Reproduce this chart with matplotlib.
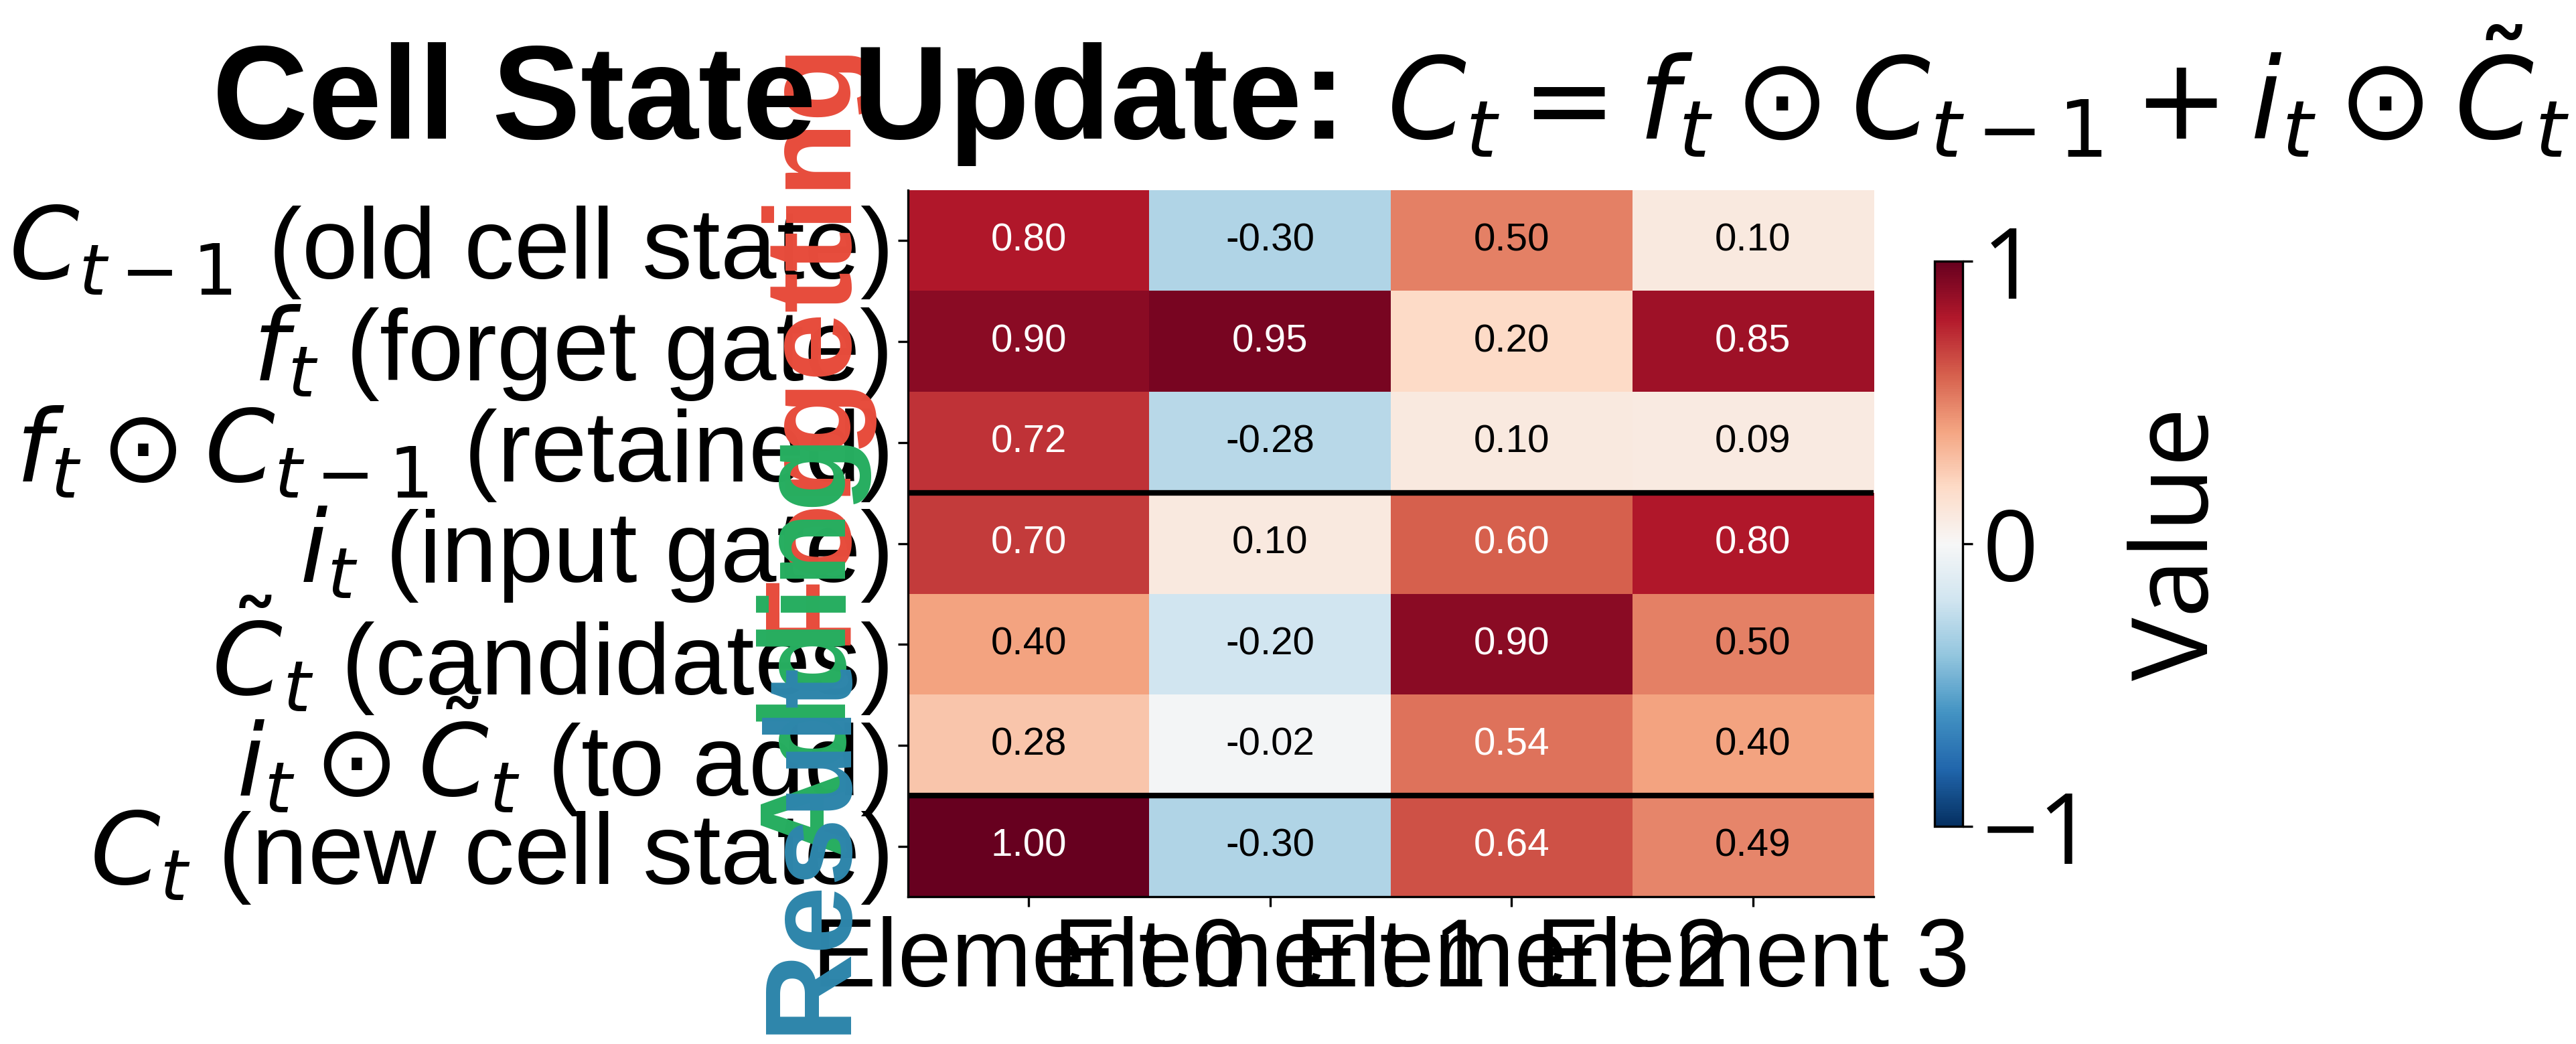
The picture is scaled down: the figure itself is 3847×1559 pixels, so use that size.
import numpy as np
import matplotlib as mpl
mpl.use('Agg')
import matplotlib.pyplot as plt

plt.rcParams['font.family'] = ['Liberation Sans', 'DejaVu Sans']

# rows of the cell state update, one list per row
c_prev = [0.80, -0.30, 0.50, 0.10]
f_gate = [0.90, 0.95, 0.20, 0.85]
retained = [0.72, -0.28, 0.10, 0.09]
i_gate = [0.70, 0.10, 0.60, 0.80]
cand = [0.40, -0.20, 0.90, 0.50]
to_add = [0.28, -0.02, 0.54, 0.40]
c_new = [1.00, -0.30, 0.64, 0.49]

row_labels = [r'$C_{t-1}$ (old cell state)',
              r'$f_t$ (forget gate)',
              r'$f_t \odot C_{t-1}$ (retained)',
              r'$i_t$ (input gate)',
              r'$\tilde{C}_t$ (candidates)',
              r'$i_t \odot \tilde{C}_t$ (to add)',
              r'$C_t$ (new cell state)']
col_labels = ['Element 0', 'Element 1', 'Element 2', 'Element 3']

groups = ['Forgetting', 'Adding', 'Result']
group_rows = [1, 4, 6]
group_colors = ['#e74c3c', '#27ae60', '#2e86ab']
separators = [2.5, 5.5]

title_text = 'Cell State Update:'
title_eq = r'$C_t = f_t \odot C_{t-1} + i_t \odot \tilde{C}_t$'

data = np.array([c_prev, f_gate, retained, i_gate, cand, to_add, c_new])

W, H, DPI = 3847, 1559, 300
fig = plt.figure(figsize=(W / DPI, H / DPI), dpi=DPI)
ax = fig.add_axes([1356 / W, 1 - 1339 / H, 1442 / W, 1055 / H])
cax = fig.add_axes([2889 / W, 1 - 1234 / H, 42 / W, 844 / H])

im = ax.imshow(data, cmap='RdBu_r', vmin=-1, vmax=1, aspect='auto')

for r in range(data.shape[0]):
    for c in range(data.shape[1]):
        v = data[r, c]
        ax.text(c, r, f'{v:.2f}', ha='center', va='center', fontsize=14,
                color='white' if abs(v) > 0.5 else 'black')

for y in separators:
    ax.axhline(y, color='black', lw=2)

ax.set_xticks(range(len(col_labels)))
ax.set_xticklabels(col_labels, fontsize=34.5)
ax.set_yticks(range(len(row_labels)))
ax.set_yticklabels(row_labels, fontsize=36)
ax.spines['top'].set_visible(False)
ax.spines['right'].set_visible(False)

for name, row, col in zip(groups, group_rows, group_colors):
    ax.text(-0.9, row, name, rotation=90, ha='center', va='center',
            fontsize=44, fontweight='bold', color=col)

cbar = fig.colorbar(im, cax=cax, ticks=[-1, 0, 1])
cbar.ax.tick_params(labelsize=35)
for t in cbar.ax.get_yticklabels():
    t.set_fontfamily('Open Sans')
cbar.set_label('Value', fontsize=38, family='Open Sans', labelpad=12)

# title: bold words + equation, centred over the heatmap
yb = 1 - 207 / H
t1 = fig.text(0, yb, title_text, fontsize=47.5, fontweight='bold', va='baseline')
t2 = fig.text(0, yb, title_eq, fontsize=40.5, va='baseline')
fig.canvas.draw()
rend = fig.canvas.get_renderer()
w1 = t1.get_window_extent(rend).width
w2 = t2.get_window_extent(rend).width
gap = 60
pos = ax.get_position()
cx = (pos.x0 + pos.x1) / 2 * W
x0 = cx - (w1 + gap + w2) / 2
t1.set_x(x0 / W)
t2.set_x((x0 + w1 + gap) / W)

fig.savefig('out.png', dpi=DPI)
